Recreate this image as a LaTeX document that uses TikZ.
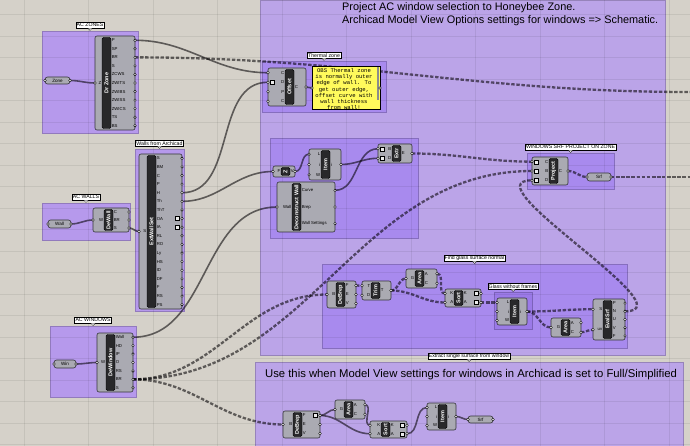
\documentclass[tikz,border=0pt]{standalone}
\usepackage{fontspec}
\setmainfont{Liberation Sans}
\newfontfamily\panelfont{Liberation Mono}
\usepackage{tikz}

\definecolor{canvas}{RGB}{213,209,201}
\definecolor{grpleft}{RGB}{182,153,236}
\definecolor{grpbig}{RGB}{187,164,232}
\definecolor{grpsub}{RGB}{168,138,238}
\definecolor{grpdeep}{RGB}{155,122,232}
\definecolor{compfill}{RGB}{170,170,178}
\definecolor{compedge}{RGB}{52,52,58}
\definecolor{stripcol}{RGB}{40,40,42}
\definecolor{wirecol}{RGB}{112,110,112}
\definecolor{panelyel}{RGB}{255,250,92}

\pgfdeclarelayer{groups}
\pgfdeclarelayer{wires}
\pgfsetlayers{groups,wires,main}

% group: id, x0, y0, x1, y1, colour, label
\newcommand\ghgroup[7]{%
  \begin{pgfonlayer}{groups}
    \draw[grpbox, fill=#6, draw=#6!80!black] (#2,#3) rectangle (#4,#5);
  \end{pgfonlayer}
  \ifx\relax#7\relax\else
    \node[grplab] (#1) at ({(#2+#4)/2},#3-5.8) {#7};
    \fill[white] ({(#2+#4)/2-2.2},#3-2.7) -- ({(#2+#4)/2},#3-0.5) -- ({(#2+#4)/2+2.2},#3-2.7) -- cycle;
    \draw[line width=.35pt] ({(#2+#4)/2-2.2},#3-2.7) -- ({(#2+#4)/2},#3-0.5) -- ({(#2+#4)/2+2.2},#3-2.7);
  \fi}

% component: id, x0, y0, x1, y1, strip x, title, inputs, outputs
\newcommand\ghcomp[9]{%
  \draw[compbody] (#2,#3) rectangle (#4,#5);
  \draw[compstrip] (#6,#3+1.5) rectangle (#6+9,#5-1.5);
  \node[comptitle] (#1) at (#6+4.5,{(#3+#5)/2}) {#7};
  \foreach [count=\n] \lab in {#8} {\xdef\ghni{\n}}
  \foreach [count=\k] \lab in {#8} {
    \pgfmathsetmacro\py{#3+(\k-0.5)*(#5-#3)/\ghni}
    \coordinate (#1-i\k) at (#2,\py);
    \node[portlab, anchor=east] at (#6-0.6,\py) {\lab};
    \draw[port] (#1-i\k) circle[radius=1.3pt];
  }
  \foreach [count=\n] \lab in {#9} {\xdef\ghno{\n}}
  \foreach [count=\k] \lab in {#9} {
    \pgfmathsetmacro\py{#3+(\k-0.5)*(#5-#3)/\ghno}
    \coordinate (#1-o\k) at (#4,\py);
    \node[portlab, anchor=west] at (#6+9.6,\py) {\lab};
    \draw[port] (#1-o\k) circle[radius=1.3pt];
  }}

% parameter: id, x0, y0, x1, y1, label
\newcommand\ghparam[6]{%
  \draw[parbody] (#2,#3) rectangle (#4,#5);
  \node[parlab] (#1) at ({(#2+#4)/2},{(#3+#5)/2}) {#6};
  \coordinate (#1-i) at (#2,{(#3+#5)/2});
  \coordinate (#1-o) at (#4,{(#3+#5)/2});
  \draw[port] (#1-i) circle[radius=1.3pt];
  \draw[port] (#1-o) circle[radius=1.3pt];}

\begin{document}
\begin{tikzpicture}[x=1pt, y=-1pt,
  compbody/.style={draw=compedge, fill=compfill, line width=.6pt, rounded corners=2pt},
  compstrip/.style={fill=stripcol, rounded corners=1.5pt},
  comptitle/.style={rotate=90, text=white, font=\fontsize{5.5}{5.5}\selectfont\bfseries, inner sep=0pt},
  portlab/.style={font=\fontsize{4.3}{4.3}\selectfont, inner sep=0pt},
  port/.style={draw=black, fill=white, line width=.4pt},
  parbody/.style={draw=compedge, fill=compfill, line width=.6pt, rounded corners=2.5pt},
  parlab/.style={font=\fontsize{4.6}{4.6}\selectfont, inner sep=0pt},
  grpbox/.style={line width=.4pt},
  grplab/.style={draw=black, fill=white, line width=.35pt, font=\fontsize{5.2}{5.2}\selectfont, inner sep=.9pt},
  gridline/.style={draw=black, opacity=.07, line width=.6pt},
  wire/.style={draw=wirecol, line width=1.6pt, blend mode=multiply},
  listwire/.style={wire, line width=2.3pt, dash pattern=on 3.4pt off 1.7pt},
  flow/.style={out=0, in=180},
  iconbox/.style={draw=black, fill=white!85!gray, line width=.3pt},
  bigtext/.style={font=\fontsize{10.9}{13}\selectfont, inner sep=0pt}
]
\useasboundingbox (0,0) rectangle (690,446);
\begin{pgfonlayer}{groups}
  \fill[canvas] (0,0) rectangle (690,446);
\end{pgfonlayer}

% groups
\ghgroup{gzones}{42}{31}{138}{133}{grpleft}{AC ZONES}
\ghgroup{gwalls}{135}{149}{184}{311}{grpleft}{Walls from Archicad}
\ghgroup{gacw}{42}{203}{130}{240}{grpleft}{AC WALLS}
\ghgroup{gwin}{50}{326}{136}{397}{grpleft}{AC WINDOWS}
\ghgroup{gmain}{260}{0}{665}{355}{grpbig}{}
\ghgroup{gtherm}{262}{61}{386}{112}{grpsub}{Thermal zone}
\ghgroup{gdecon}{270}{138}{418}{238}{grpsub}{}
\ghgroup{gproj}{527}{153}{614}{189}{grpsub}{WINDOWS SRF PROJECT ON ZONE}
\ghgroup{gglass}{322}{264}{627}{348}{grpsub}{Find glass surface normal}
\ghgroup{gframe}{494}{292}{532}{329}{grpdeep}{Glass without frames}
\ghgroup{gextract}{255}{362}{683}{446}{grpbig}{Extract single surface from window}

\begin{pgfonlayer}{groups}
  \foreach \gx in {0,...,10} \draw[gridline] ({24+64.5*\gx},0) -- ++(0,446);
  \foreach \gy in {0,...,20} \draw[gridline] (0,{14.5+21.5*\gy}) -- ++(690,0);
\end{pgfonlayer}

\node[bigtext, anchor=base west] (title1) at (342,10.5) {Project AC window selection to Honeybee Zone.};
\node[bigtext, anchor=base west] (title2) at (342,23.5) {Archicad Model View Options settings for windows => Schematic.};
\node[bigtext, font=\fontsize{11.3}{13}\selectfont, anchor=base] (usenote) at (471,377) {Use this when Model View settings for windows in Archicad is set to Full/Simplified};

% left inputs
\ghparam{zp}{45}{77}{70}{84}{Zone}
\ghcomp{dz}{95}{36}{135}{130}{102}{Dr Zone}{Z}{P,SP,BR,S,ZCWS,ZWITS,ZWIBS,ZWISS,ZWICS,TS,BS}
\ghcomp{ew}{139}{154}{182}{309}{147}{ExtWallSet}{S}{S,BM,C,P,H,Th,ThT,OA,IA,RL,RO,Ly,HS,ID,DF,F,RS,PS}
\ghparam{wp}{48}{220}{71}{228}{Wall}
\ghcomp{dw}{93}{208}{129}{232}{104}{DeWall}{W}{C,BR,S}
\ghparam{np}{54}{360}{76}{368}{Win}
\ghcomp{dn}{97}{333}{133}{392}{106}{DeWindow}{W}{Wall,HD,IP,O,RS,BR,S}

% thermal zone
\ghcomp{of}{268}{68}{306}{106}{285}{Offset}{C,D,P,C}{C}
\draw[draw=black, fill=panelyel, line width=.5pt] (312,66) rectangle (380,109);
\begin{scope}
  \clip (312,66) rectangle (380,109);
  \node[font=\panelfont\fontsize{5.6}{6.1}\selectfont, align=center, inner sep=0pt, anchor=north] (pn) at (344,68.5)
    {OBS Thermal zone\\is normally outer\\edge of wall. To\\get outer edge,\\offset curve with\\wall thickness\\from wall!};
\end{scope}
\fill[black!45] (376.5,67) rectangle (379,100);
\coordinate (pn-i) at (312,88);
\coordinate (pn-o) at (380,88);
\draw[port] (pn-i) circle[radius=1.3pt];
\draw[port] (pn-o) circle[radius=1.3pt];

% wall curve and extrusion
\ghcomp{uz}{273}{166}{295}{177}{281}{Z}{F}{V}
\ghcomp{it}{309}{149}{341}{180}{321}{Item}{L,i,W}{i}
\ghcomp{ex}{378}{144}{412}{163}{392}{Extr}{B,D}{E}
\ghcomp{dc}{277}{182}{335}{232}{292}{Deconstruct Wall}{Wall}{Curve,Brep,Wall Settings}

% projection
\ghcomp{pj}{532}{157}{568}{185}{549}{Project}{C,B,D}{C}
\ghparam{sp}{587}{173}{611}{181}{Srf}
\coordinate (zend) at (690,92);
\coordinate (send) at (690,177);

% glass normal
\ghcomp{db}{327}{281}{356}{308}{336}{DeBrep}{B}{F,E,V}
\ghcomp{tr}{362}{281}{391}{300}{371}{Trim}{T,D}{T}
\ghcomp{ar}{406}{269}{437}{288}{415}{Area}{G}{A,C}
\ghcomp{so}{445}{289}{481}{307}{454}{Sort}{K,A}{K,A}
\ghcomp{i2}{497}{298}{527}{325}{510}{Item}{L,i,W}{i}
\ghcomp{a2}{551}{318}{581}{337}{561}{Area}{G}{A,C}
\ghcomp{es}{593}{299}{625}{340}{603}{EvalSrf}{S,uv}{P,N,U,V,F}

% single surface
\ghcomp{bd}{283}{411}{320}{438}{293}{DeBrep}{B}{F,E,V}
\ghcomp{ba}{335}{400}{365}{419}{344}{Area}{G}{A,C}
\ghcomp{bs}{370}{421}{407}{438}{381}{Sort}{K,A}{K,A}
\ghcomp{bi}{427}{403}{456}{430}{438}{Item}{L,i,W}{i}
\ghparam{bp}{468}{416}{493}{423}{Srf}

\foreach \p in {of-i2,ex-i1,ex-i2,pj-i1,pj-i2,pj-i3}
  \draw[iconbox] ([shift={(2.6,-2)}]\p) rectangle ++(4,4);
\foreach \p in {so-o1,so-o2,bs-o1,bs-o2,bd-o1,ew-o8,ew-o9}
  \draw[iconbox] ([shift={(-6.6,-2)}]\p) rectangle ++(4,4);

\begin{pgfonlayer}{wires}
\foreach \a/\b in {zp-o/dz-i1,wp-o/dw-i1,np-o/dn-i1,dw-o3/ew-i1,dz-o1/of-i1,ew-o5/of-i2,ew-o6/uz-i1,dn-o1/dc-i1,uz-o1/it-i1,dc-o1/ex-i1,it-o1/ex-i2,of-o1/pn-i,bd-o1/ba-i1,bd-o1/bs-i2,ba-o1/bs-i1,bs-o2/bi-i1,bi-o1/bp-i}
  {\draw[wire] (\a) to[flow] (\b);}
\foreach \a/\b in {dz-o3/zend,ex-o1/pj-i1,dn-o6/pj-i2,dn-o6/db-i1,dn-o6/bd-i1,pj-o1/sp-i,sp-o/send,db-o1/tr-i1,tr-o1/ar-i1,tr-o1/so-i2,ar-o1/so-i1,so-o2/i2-i1,i2-o1/es-i1,i2-o1/a2-i1,a2-o2/es-i2}
  {\draw[listwire] (\a) to[flow] (\b);}
\draw[listwire] (es-o2) .. controls +(65,0) and +(-65,0) .. (pj-i3);
\end{pgfonlayer}
\end{tikzpicture}
\end{document}
